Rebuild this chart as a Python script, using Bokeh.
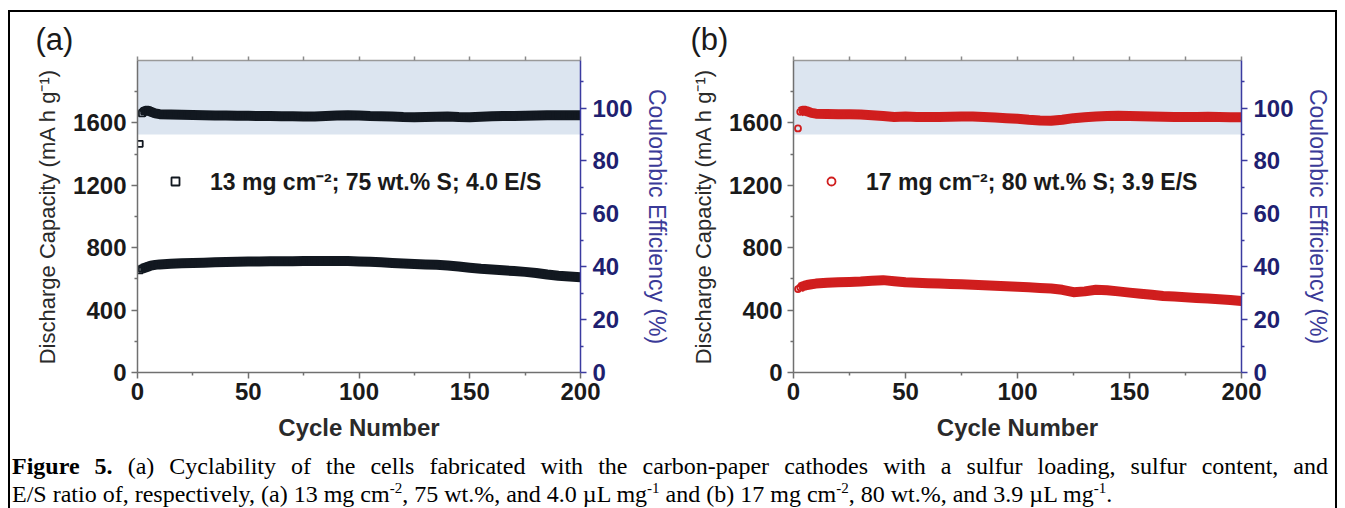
from bokeh.plotting import figure
from bokeh.models import (Range1d, LinearAxis, FixedTicker, BoxAnnotation,
                          Legend, LegendItem, Div)
from bokeh.layouts import row, column
from bokeh.embed import file_html
from bokeh.resources import INLINE

# ---------------- data ----------------
cycles_a = [1, 2, 3, 4, 5, 6, 8, 10, 15, 20, 25, 30, 35, 40, 45, 50, 55, 60, 65, 70,
            75, 80, 85, 90, 95, 100, 105, 110, 115, 120, 125, 130, 135, 140, 145, 150,
            155, 160, 165, 170, 175, 180, 185, 190, 195, 200]
capacity_a = [655, 665, 670, 675, 680, 685, 690, 693, 697, 700, 702, 704, 706, 708, 710, 711,
              712, 713, 713, 713, 714, 714, 715, 715, 714, 712, 710, 706, 702, 698, 695, 692,
              690, 686, 680, 672, 665, 660, 655, 650, 645, 638, 628, 620, 615, 610]
ce_a = [86.5, 98.0, 98.8, 99.0, 99.0, 98.6, 98.0, 97.7, 97.6, 97.5, 97.4, 97.3, 97.2, 97.2,
        97.1, 97.1, 97.0, 97.0, 96.9, 96.9, 96.8, 96.8, 97.0, 97.2, 97.3, 97.2, 97.0, 96.9,
        96.8, 96.6, 96.5, 96.6, 96.7, 96.8, 96.6, 96.5, 96.7, 96.9, 97.0, 97.0, 97.1, 97.2,
        97.3, 97.3, 97.3, 97.3]

cycles_b = [2, 3, 4, 5, 6, 8, 10, 15, 20, 25, 30, 35, 40, 45, 50, 55, 60, 65, 70, 75,
            80, 85, 90, 95, 100, 105, 110, 115, 120, 125, 130, 135, 140, 145, 150, 155,
            160, 165, 170, 175, 180, 185, 190, 195, 200]
capacity_b = [535, 545, 552, 557, 561, 566, 570, 575, 578, 580, 583, 588, 592, 585, 578, 575,
              572, 570, 568, 566, 563, 560, 556, 553, 550, 546, 542, 538, 530, 515, 520, 530,
              527, 520, 512, 505, 498, 490, 487, 483, 478, 474, 470, 465, 458]
ce_b = [92.3, 98.6, 99.0, 99.0, 98.8, 98.2, 97.9, 97.8, 97.7, 97.7, 97.6, 97.3, 97.0, 96.6,
        96.8, 96.6, 96.6, 96.6, 96.7, 96.8, 96.8, 96.6, 96.4, 96.2, 96.0, 95.6, 95.3, 95.2,
        95.6, 96.2, 96.5, 96.8, 97.0, 97.1, 97.0, 96.9, 96.8, 96.7, 96.6, 96.6, 96.6, 96.7,
        96.6, 96.5, 96.5]

x_major = [0, 50, 100, 150, 200]
x_minor = [25, 75, 125, 175]
x_top = [0, 25, 50, 75, 100, 125, 150, 175, 200]
y_major = [0, 400, 800, 1200, 1600]
y_minor = [200, 600, 1000, 1400, 1800]
ce_major = [0, 20, 40, 60, 80, 100]
ce_minor = [10, 30, 50, 70, 90, 110]
shade_from = 90

labels = ["(a)", "(b)"]
legend_texts = ["13 mg cm\u207b\u00b2; 75 wt.% S; 4.0 E/S",
                "17 mg cm\u207b\u00b2; 80 wt.% S; 3.9 E/S"]

FONT = "Liberation Sans"
NAVY_AX = "#3b3ba0"
NAVY_TXT = "#1f1f70"


def make_panel(cyc, cap, ce, color, marker, panel_label, leg_text, width, mb_left, mb_right,
               title_offset):
    p = figure(width=width, height=440, x_range=Range1d(0, 200), y_range=Range1d(0, 2000),
               output_backend="svg", toolbar_location=None,
               min_border_left=mb_left, min_border_right=mb_right,
               min_border_top=48, min_border_bottom=80, margin=0)
    p.extra_y_ranges = {"ce": Range1d(0, 118)}
    p.outline_line_color = None
    p.xgrid.visible = False
    p.ygrid.visible = False
    p.background_fill_color = "white"
    p.border_fill_color = "white"

    p.title.text = panel_label
    p.title.align = "left"
    p.title.offset = title_offset
    p.title.standoff = 0
    p.title.text_font = FONT
    p.title.text_font_size = "31px"
    p.title.text_font_style = "normal"
    p.title.text_color = "#1a1a1a"

    p.add_layout(BoxAnnotation(bottom=shade_from, y_range_name="ce",
                               fill_color="#dce5f0", fill_alpha=1.0, line_color=None,
                               level="underlay"))

    # bottom axis
    xa = p.xaxis[0]
    xa.ticker = FixedTicker(ticks=x_major, minor_ticks=x_minor)
    xa.axis_label = "Cycle Number"
    # left axis
    ya = p.yaxis[0]
    ya.ticker = FixedTicker(ticks=y_major, minor_ticks=y_minor)
    ya.axis_label = "Discharge Capacity (mA h g\u207b\u00b9)"
    # right axis
    ra = LinearAxis(y_range_name="ce", ticker=FixedTicker(ticks=ce_major, minor_ticks=ce_minor),
                    axis_label="Coulombic Efficiency (%)")
    p.add_layout(ra, "right")
    # top axis (ticks only)
    ta = LinearAxis(ticker=FixedTicker(ticks=x_top, minor_ticks=[]))
    ta.major_label_overrides = {t: "" for t in x_top}
    p.add_layout(ta, "above")

    for ax in (xa, ya, ra, ta):
        ax.major_label_text_font = FONT
        ax.major_label_text_font_style = "bold"
        ax.major_label_text_font_size = "24px"
        ax.major_label_text_color = "#1a1a1a"
        ax.axis_label_text_font = FONT
        ax.axis_label_text_font_size = "22px"
        ax.axis_label_text_font_style = "normal"
        ax.axis_label_text_color = "#2a2a2a"
        ax.major_tick_in = 0
        ax.minor_tick_in = 0
        ax.major_tick_out = 6
        ax.minor_tick_out = 3
        ax.axis_line_width = 1.5
        ax.axis_line_color = "#707070"
        ax.major_tick_line_color = "#707070"
        ax.minor_tick_line_color = "#707070"
        ax.major_tick_line_width = 1.5
        ax.minor_tick_line_width = 1.5

    xa.axis_label_text_font_style = "bold"
    xa.axis_label_text_font_size = "24px"
    xa.major_label_standoff = 4
    xa.axis_label_standoff = 11
    ya.major_label_standoff = 5
    ya.axis_label_standoff = 10
    ra.major_label_standoff = 6
    ra.axis_label_standoff = 8
    ra.axis_line_color = NAVY_AX
    ra.major_tick_line_color = NAVY_AX
    ra.minor_tick_line_color = NAVY_AX
    ra.major_label_text_color = NAVY_TXT
    ra.axis_label_text_color = "#3a3a98"
    ra.axis_label_text_font_size = "23px"
    ta.major_label_text_font_size = "8px"
    ta.major_label_standoff = 0
    ta.major_tick_out = 4
    ta.axis_line_color = "#9a9a9a"
    ta.major_tick_line_color = "#8a8a8a"

    # thick bands formed by the dense markers
    p.line(cyc[1:], cap[1:], line_color=color, line_width=10, line_cap="butt", line_join="round")
    p.line(cyc[1:], ce[1:], y_range_name="ce", line_color=color, line_width=10,
           line_cap="butt", line_join="round")
    p.scatter(cyc, cap, marker=marker, size=6, line_color=color, line_width=1.8,
              fill_alpha=0)
    sc = p.scatter(cyc, ce, y_range_name="ce", marker=marker, size=6, line_color=color,
                   line_width=1.8, fill_alpha=0)

    leg = Legend(items=[LegendItem(label=leg_text, renderers=[sc])], location=(28, 175),
                 border_line_color=None, background_fill_alpha=0, padding=0, margin=0,
                 spacing=0, glyph_width=20, glyph_height=20, label_standoff=25,
                 label_height=20, label_text_font=FONT, label_text_font_style="bold",
                 label_text_font_size="23px", label_text_color="#1a1a1a")
    p.add_layout(leg)
    return p


pa = make_panel(cycles_a, capacity_a, ce_a, "#121820", "square", labels[0], legend_texts[0],
                662, 127, 88, -102)
pb = make_panel(cycles_b, capacity_b, ce_b, "#d01e1e", "circle", labels[1], legend_texts[1],
                663, 121, 94, -103)

caption_html = (
    "<div style=\"font-family:'Liberation Serif','Times New Roman',serif;font-size:24px;"
    "line-height:28px;color:#000;padding-left:2px;width:1316px;\">"
    "<div style='width:1316px;text-align:justify;text-align-last:justify;'><b>Figure 5.</b> "
    "(a) Cyclability of the cells fabricated with the carbon-paper cathodes with a sulfur "
    "loading, sulfur content, and</div>"
    "<div style='width:1316px;text-align:left;white-space:nowrap;'>E/S ratio of, respectively, "
    "(a) 13 mg cm<sup style='line-height:0;font-size:15px'>-2</sup>, 75 wt.%, and 4.0 &micro;L "
    "mg<sup style='line-height:0;font-size:15px'>-1</sup> and (b) 17 mg "
    "cm<sup style='line-height:0;font-size:15px'>-2</sup>, 80 wt.%, and 3.9 &micro;L "
    "mg<sup style='line-height:0;font-size:15px'>-1</sup>.</div></div>"
)
cap = Div(text=caption_html, width=1325, height=56, margin=0)

layout = column(row(pa, pb), cap, margin=(10, 0, 0, 8),
                styles={"border-top": "2px solid #000", "border-left": "2px solid #000",
                        "border-right": "2px solid #000"})

open("out.html", "w").write(file_html(layout, INLINE))
